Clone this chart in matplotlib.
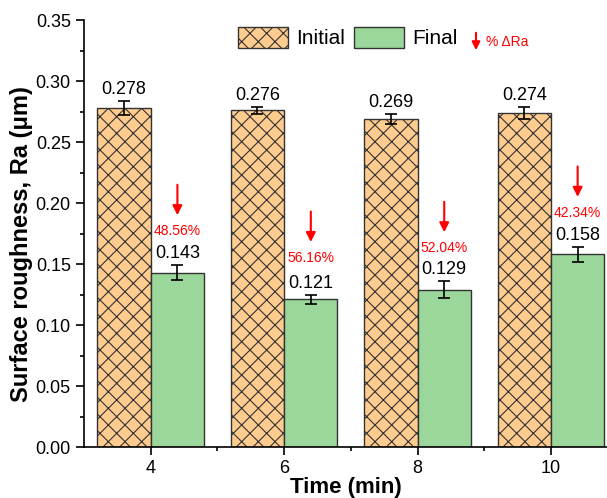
import matplotlib
matplotlib.use('Agg')
import matplotlib.pyplot as plt
import numpy as np

# data
times = [4, 6, 8, 10]
initial = [0.278, 0.276, 0.269, 0.274]
initial_err = [0.006, 0.003, 0.004, 0.005]
final = [0.143, 0.121, 0.129, 0.158]
final_err = [0.006, 0.004, 0.007, 0.006]
reduction = ['48.56%', '56.16%', '52.04%', '42.34%']

plt.rcParams['font.family'] = ['Liberation Sans', 'DejaVu Sans']
plt.rcParams['hatch.linewidth'] = 0.8

fig = plt.figure(figsize=(6.07, 4.98), dpi=100)
ax = fig.add_axes([0.1384, 0.1024, 0.8616, 0.8574])

x = np.array(times, dtype=float)
w = 0.8
ax.bar(x - w / 2, initial, w, color='#FFCC8F', edgecolor='#333333', hatch='xx',
       linewidth=1.0, label='Initial')
ax.bar(x + w / 2, final, w, color='#9BD69B', edgecolor='#333333',
       linewidth=1.0, label='Final')
ax.errorbar(x - w / 2, initial, yerr=initial_err, fmt='none', ecolor='black',
            elinewidth=1.2, capsize=4, capthick=1.2)
ax.errorbar(x + w / 2, final, yerr=final_err, fmt='none', ecolor='black',
            elinewidth=1.2, capsize=4, capthick=1.2)

# value labels above the error bars
for xi, v, e in zip(x - w / 2, initial, initial_err):
    ax.annotate('%.3f' % v, (xi, v + e), xytext=(0, 2), textcoords='offset points',
                ha='center', va='bottom', fontsize=13)
for xi, v, e in zip(x + w / 2, final, final_err):
    ax.annotate('%.3f' % v, (xi, v + e), xytext=(0, 2), textcoords='offset points',
                ha='center', va='bottom', fontsize=13)

# red arrows and percentage reduction
for xi, v, r in zip(x + w / 2, final, reduction):
    ax.annotate('', xy=(xi, v + 0.047), xytext=(xi, v + 0.072),
                arrowprops=dict(arrowstyle='-|>', color='red', lw=1.5,
                                mutation_scale=14, shrinkA=0, shrinkB=0))
    ax.text(xi, v + 0.034, r, color='red', ha='center', va='center', fontsize=10)

ax.set_xlim(3, 10.84)
ax.set_ylim(0, 0.35)
ax.set_xticks(times)
ax.set_xticks([5, 7, 9], minor=True)
ax.set_yticks(np.arange(0, 0.351, 0.05))
ax.set_yticks(np.arange(0.025, 0.35, 0.05), minor=True)
ax.yaxis.set_major_formatter(matplotlib.ticker.FormatStrFormatter('%.2f'))
ax.tick_params(which='major', direction='out', length=6, width=1.2, labelsize=13)
ax.tick_params(which='minor', direction='out', length=3, width=1.2)
ax.spines['top'].set_visible(False)
ax.spines['right'].set_visible(False)
ax.spines['left'].set_linewidth(1.2)
ax.spines['bottom'].set_linewidth(1.2)

ax.set_xlabel('Time (min)', fontsize=16, fontweight='bold', labelpad=0)
ax.set_ylabel('Surface roughness, Ra (μm)', fontsize=17, fontweight='bold')
ax.yaxis.set_label_coords(-0.098, 0.475)

fig.legend(loc='upper left', bbox_to_anchor=(238 / 607, 1 - 27 / 498), ncol=2,
           frameon=False, fontsize=15, handlelength=2.4, handleheight=1.15,
           handletextpad=0.4, columnspacing=0.4, borderpad=0, borderaxespad=0)

# legend entry for the arrow
fig.add_artist(matplotlib.patches.FancyArrowPatch((476 / 607, 1 - 30 / 498), (476 / 607, 1 - 53 / 498),
               transform=fig.transFigure, arrowstyle='-|>', color='red', lw=1.5,
               mutation_scale=12))
fig.text(486 / 607, 1 - 42 / 498, '% ΔRa', color='red', fontsize=10, va='center', ha='left')

fig.savefig('out.png', dpi=100)
